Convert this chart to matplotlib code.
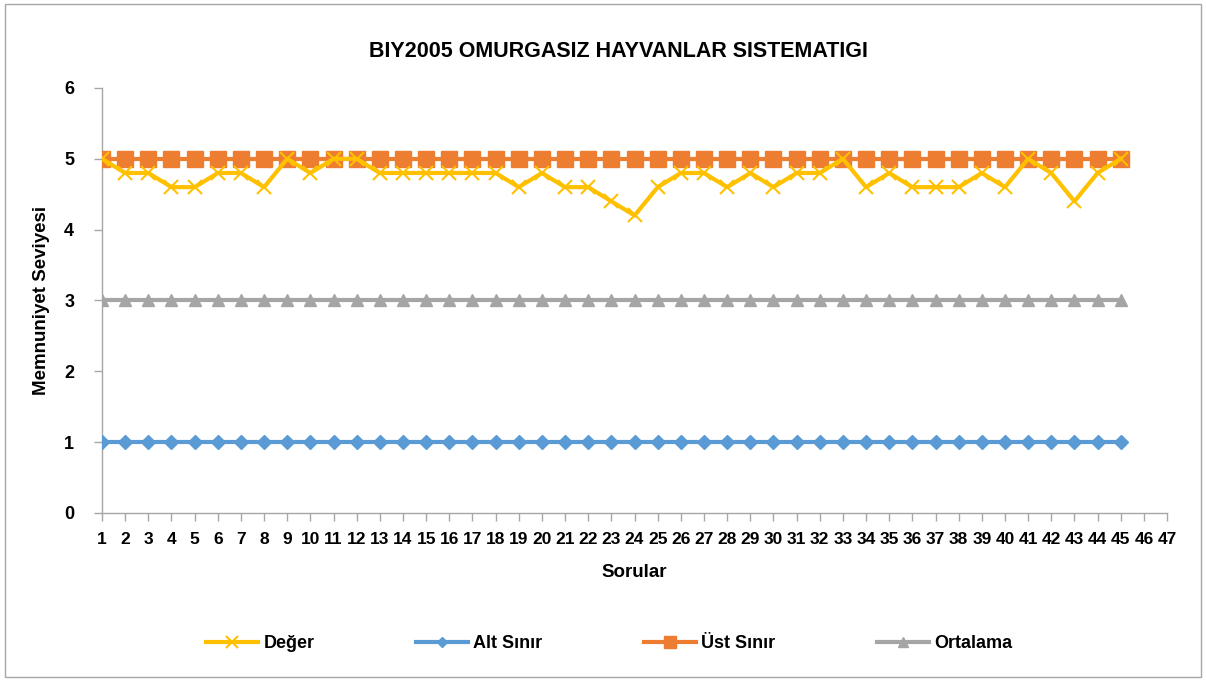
import matplotlib
matplotlib.use("Agg")
from matplotlib import pyplot as plt
from matplotlib.patches import Rectangle

plt.rcParams['font.family'] = ['Liberation Sans', 'DejaVu Sans']

# questions 1..45, axis labelled up to 47
sorular = list(range(1, 46))
tick_labels = [str(i) for i in range(1, 48)]

deger = [5, 4.8, 4.8, 4.6, 4.6, 4.8, 4.8, 4.6, 5, 4.8,
         5, 5, 4.8, 4.8, 4.8, 4.8, 4.8, 4.8, 4.6, 4.8,
         4.6, 4.6, 4.4, 4.2, 4.6, 4.8, 4.8, 4.6, 4.8, 4.6,
         4.8, 4.8, 5, 4.6, 4.8, 4.6, 4.6, 4.6, 4.8, 4.6,
         5, 4.8, 4.4, 4.8, 5]
alt_sinir = [1] * 45
ust_sinir = [5] * 45
ortalama = [3] * 45

fig = plt.figure(figsize=(12.06, 6.81), dpi=100)
ax = fig.add_axes([0.0846, 0.2467, 0.8831, 0.6241])

# outer chart border
fig.patches.append(Rectangle((0.004, 0.006), 0.992, 0.988, transform=fig.transFigure,
                             fill=False, edgecolor='#a6a6a6', linewidth=1))

ax.plot(sorular, deger, color='#FFC000', lw=3, marker='x', ms=10, mew=1.5, label='Değer', zorder=5)
ax.plot(sorular, alt_sinir, color='#5B9BD5', lw=3, marker='D', ms=7, label='Alt Sınır', zorder=3)
ax.plot(sorular, ust_sinir, color='#ED7D31', lw=3, marker='s', ms=11, label='Üst Sınır', zorder=4)
ax.plot(sorular, ortalama, color='#A5A5A5', lw=3, marker='^', ms=9, label='Ortalama', zorder=3)

ax.set_xlim(1, 47)
ax.set_ylim(0, 6)
ax.set_xticks(range(1, 48))
ax.set_xticklabels(tick_labels)
ax.set_yticks(range(0, 7))

for s in ['top', 'right']:
    ax.spines[s].set_visible(False)
for s in ['left', 'bottom']:
    ax.spines[s].set_color('#a6a6a6')
    ax.spines[s].set_linewidth(1)
ax.tick_params(axis='both', color='#a6a6a6', length=6, width=1, labelsize=13)
ax.tick_params(axis='y', direction='out', pad=14)
ax.tick_params(axis='x', direction='out', pad=8, labelsize=12.5)
for lbl in ax.get_xticklabels() + ax.get_yticklabels():
    lbl.set_fontweight('bold')

ax.set_title('BIY2005 OMURGASIZ HAYVANLAR SISTEMATIGI', fontsize=15.5, fontweight='bold',
             pad=22, x=0.485)
ax.set_xlabel('Sorular', fontsize=13.5, fontweight='bold', labelpad=12)
ax.set_ylabel('Memnuniyet Seviyesi', fontsize=13.5, fontweight='bold', labelpad=10)

fig.legend(loc='center', bbox_to_anchor=(0.505, 0.055), ncol=4, frameon=False,
           prop={'weight': 'bold', 'size': 13}, handlelength=2.9, markerscale=0.8,
           columnspacing=5.6, handletextpad=0.3)

fig.savefig('out.png', dpi=100)
